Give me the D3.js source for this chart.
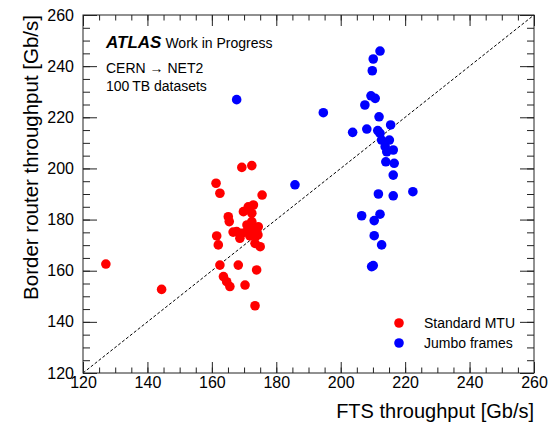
<!DOCTYPE html>
<html>
<head>
<meta charset="utf-8">
<script src="https://cdn.jsdelivr.net/npm/d3@7"></script>
<style>
body{margin:0;background:#fff;}
svg text{font-family:"Liberation Sans",Arial,Helvetica,sans-serif;}
</style>
</head>
<body>
<svg id="chart" width="548" height="423"></svg>
<script>
// Standard MTU (red)
var stdFts    = [127.1,144.4,161.3,162.5,161.5,162.0,162.5,163.6,164.6,165.6,165.1,165.4,167.7,168.2,169.3,172.4,169.3,169.8,170.8,171.3,172.4,172.9,172.4,172.9,174.4,175.6,168.7,173.4,175.0,173.9,170.3,173.4,171.8,170.9,173.7,166.6,174.3];
var stdRouter = [162.6,152.7,194.2,190.3,173.6,170.1,162.2,157.7,155.7,153.8,181.1,179.2,175.3,162.2,200.4,201.1,174.6,183.1,175.3,185.0,182.5,185.7,179.2,175.9,177.2,189.6,172.7,170.7,169.4,160.3,154.4,146.3,173.6,177.9,173.6,175.1,174.0];
// Jumbo frames (blue)
var jumboFts    = [167.7,185.8,194.6,203.7,206.5,207.5,208.1,209.4,210.7,209.8,210.1,212.2,211.9,215.5,211.5,212.2,212.7,215.1,213.8,216.3,214.3,214.0,216.6,216.3,211.7,216.3,222.4,212.2,210.4,210.4,212.7,210.1,209.6];
var jumboRouter = [226.9,193.6,221.8,214.1,181.5,224.8,215.4,228.4,227.4,238.2,242.8,245.9,220.2,217.0,214.8,213.7,211.1,211.1,208.5,207.2,206.5,202.6,202.0,197.4,190.0,189.3,190.9,182.1,179.6,173.7,170.1,162.0,161.6];

var xTicks = [120,140,160,180,200,220,240,260];
var yTicks = [120,140,160,180,200,220,240,260];
var minorTicks = d3.range(120,261,5);

var series = [
  {name:"Standard MTU", color:"#ff0000", xs:stdFts, ys:stdRouter},
  {name:"Jumbo frames", color:"#0000ff", xs:jumboFts, ys:jumboRouter}
];

var padL = 83, padR = 534, padT = 15, padB = 373;
var svg = d3.select("#chart");

var x = d3.scaleLinear().domain([120,260]).range([padL,padR]);
var y = d3.scaleLinear().domain([120,260]).range([padB,padT]);

// diagonal
svg.append("line")
    .attr("x1",x(120)).attr("y1",y(120))
    .attr("x2",x(260)).attr("y2",y(260))
    .attr("stroke","#000")
    .attr("stroke-width",1)
    .attr("stroke-dasharray","3,2");

// points
series.forEach(function(s){
    svg.append("g").selectAll("circle")
        .data(s.xs)
        .enter()
        .append("circle")
        .attr("cx",function(d){return x(d);})
        .attr("cy",function(d,i){return y(s.ys[i]);})
        .attr("r",4.8)
        .attr("fill",s.color);
});

// axes, ticks pointing inward on all four sides
function styleAxis(g){
    g.select(".domain").remove();
    g.selectAll(".tick line").attr("stroke","#222");
    g.selectAll(".tick text").attr("fill","#000").attr("font-size","16px");
}

svg.append("g").attr("transform","translate(0,"+padB+")")
    .call(d3.axisBottom(x).tickValues(minorTicks).tickSize(-5.5).tickFormat(""))
    .call(styleAxis);
svg.append("g").attr("transform","translate(0,"+padB+")")
    .call(d3.axisBottom(x).tickValues(xTicks).tickSize(-11).tickPadding(4).tickFormat(d3.format("d")))
    .call(styleAxis);
svg.append("g").attr("transform","translate(0,"+padT+")")
    .call(d3.axisTop(x).tickValues(minorTicks).tickSize(-5.5).tickFormat(""))
    .call(styleAxis);
svg.append("g").attr("transform","translate(0,"+padT+")")
    .call(d3.axisTop(x).tickValues(xTicks).tickSize(-11).tickFormat(""))
    .call(styleAxis);

svg.append("g").attr("transform","translate("+padL+",0)")
    .call(d3.axisLeft(y).tickValues(minorTicks).tickSize(-7).tickFormat(""))
    .call(styleAxis);
svg.append("g").attr("transform","translate("+padL+",0)")
    .call(d3.axisLeft(y).tickValues(yTicks).tickSize(-14).tickPadding(9).tickFormat(d3.format("d")))
    .call(styleAxis);
svg.append("g").attr("transform","translate("+padR+",0)")
    .call(d3.axisRight(y).tickValues(minorTicks).tickSize(-7).tickFormat(""))
    .call(styleAxis);
svg.append("g").attr("transform","translate("+padR+",0)")
    .call(d3.axisRight(y).tickValues(yTicks).tickSize(-14).tickFormat(""))
    .call(styleAxis);

// frame
svg.append("rect")
    .attr("x",padL).attr("y",padT)
    .attr("width",padR-padL).attr("height",padB-padT)
    .attr("fill","none")
    .attr("stroke","#222")
    .attr("stroke-width",1);

// axis titles
svg.append("text")
    .attr("x",padR).attr("y",418)
    .attr("text-anchor","end")
    .attr("font-size","20px")
    .text("FTS throughput [Gb/s]");
svg.append("text")
    .attr("transform","translate(38,"+padT+") rotate(-90)")
    .attr("text-anchor","end")
    .attr("font-size","20.5px")
    .text("Border router throughput [Gb/s]");

// labels
var lab = svg.append("g");
var t1 = lab.append("text").attr("x",106).attr("y",48);
t1.append("tspan").attr("font-size","17px").attr("font-weight","bold").attr("font-style","italic").text("ATLAS");
t1.append("tspan").attr("font-size","14px").attr("dx",4).text("Work in Progress");
lab.append("text").attr("x",106).attr("y",73).attr("font-size","14px").text("CERN \u2192 NET2");
lab.append("text").attr("x",106).attr("y",91).attr("font-size","14px").text("100\u2009TB datasets");

// legend
var legend = svg.append("g").selectAll("g.lg")
    .data(series)
    .enter()
    .append("g")
    .attr("class","lg");
legend.append("circle")
    .attr("cx",399)
    .attr("cy",function(d,i){return 323+i*20;})
    .attr("r",4.8)
    .attr("fill",function(d){return d.color;});
legend.append("text")
    .attr("x",424)
    .attr("y",function(d,i){return 328+i*20;})
    .attr("font-size","14px")
    .text(function(d){return d.name;});
</script>
</body>
</html>
